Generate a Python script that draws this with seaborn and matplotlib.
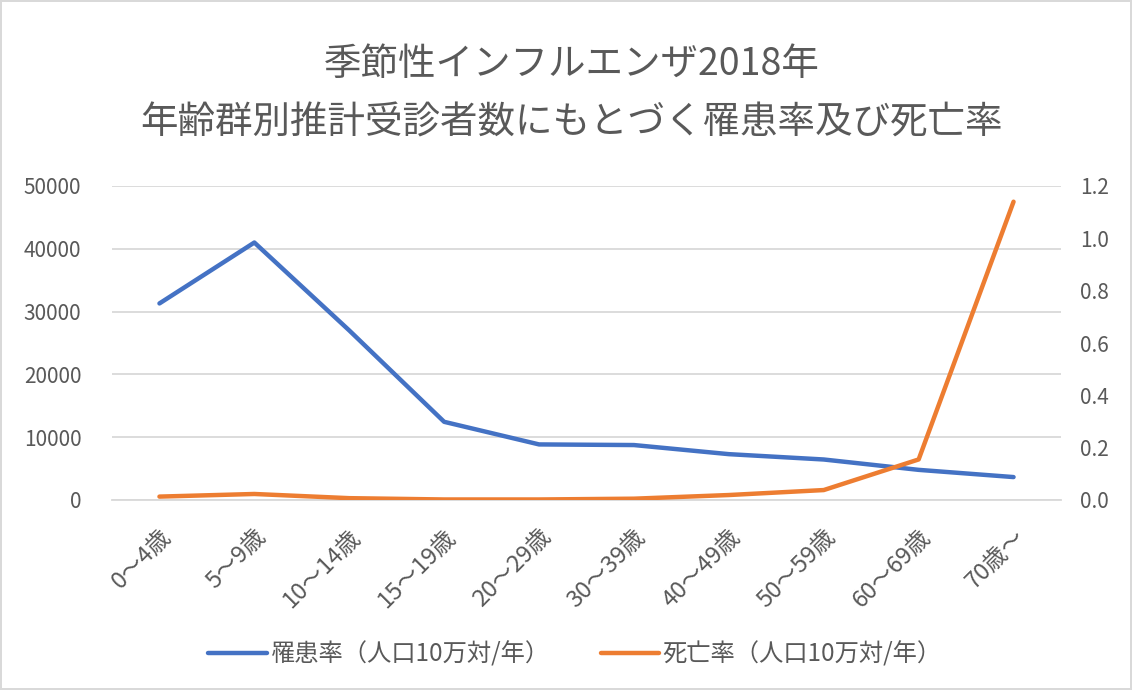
import matplotlib
matplotlib.use('Agg')
import matplotlib.pyplot as plt
import seaborn as sns
import pandas as pd

# age groups and rates
age_groups = ['0〜4歳', '5〜9歳', '10〜14歳', '15〜19歳', '20〜29歳',
              '30〜39歳', '40〜49歳', '50〜59歳', '60〜69歳', '70歳〜']
morbidity = [31300, 41000, 27000, 12450, 8850, 8750, 7300, 6450, 4800, 3650]
mortality = [0.013, 0.023, 0.007, 0.002, 0.002, 0.005, 0.019, 0.038, 0.155, 1.14]

morb_label = '罹患率（人口10万対/年）'
mort_label = '死亡率（人口10万対/年）'
title = '季節性インフルエンザ2018年\n年齢群別推計受診者数にもとづく罹患率及び死亡率'

BLUE = '#4472C4'
ORANGE = '#ED7D31'
GRID = '#D9D9D9'
TEXT = '#595959'

sns.set_theme(style='white')
plt.rcParams['font.family'] = ['Noto Sans CJK JP', 'DejaVu Sans']

df = pd.DataFrame({'age': age_groups, 'morb': morbidity, 'mort': mortality})
df['x'] = range(len(df))

fig = plt.figure(figsize=(11.32, 6.9), dpi=100)
fig.patch.set_edgecolor('#D9D9D9')
fig.patch.set_linewidth(1.5)
ax = fig.add_axes([112 / 1132, 1 - 500 / 690, 949 / 1132, 314 / 690])
ax2 = ax.twinx()

sns.lineplot(data=df, x='x', y='morb', ax=ax, color=BLUE, linewidth=3.2,
             solid_capstyle='round', label=morb_label, legend=False)
sns.lineplot(data=df, x='x', y='mort', ax=ax2, color=ORANGE, linewidth=3.2,
             solid_capstyle='round', label=mort_label, legend=False)

ax.set_xlim(-0.5, len(age_groups) - 0.5)
ax.set_ylim(0, 50000)
ax2.set_ylim(0, 1.2)
ax.set_yticks(range(0, 50001, 10000))
ax2.set_yticks([i / 10 for i in range(0, 13, 2)])
ax2.set_yticklabels([f'{i / 10:.1f}' for i in range(0, 13, 2)])
ax.set_xticks(df['x'])
ax.set_xticklabels(age_groups, rotation=45, ha='right', rotation_mode='anchor')

ax.grid(axis='y', color=GRID, linewidth=1.3)
ax.set_axisbelow(True)
for a in (ax, ax2):
    for s in a.spines.values():
        s.set_visible(False)
    a.set_xlabel('')
    a.set_ylabel('')
ax.spines['bottom'].set_visible(True)
ax.spines['bottom'].set_color(GRID)
ax.spines['bottom'].set_linewidth(1.3)

ax.tick_params(axis='y', labelsize=15, labelcolor=TEXT, length=0, pad=22)
ax2.tick_params(axis='y', labelsize=15, labelcolor=TEXT, length=0, pad=14)
ax.tick_params(axis='x', labelsize=17, labelcolor=TEXT, length=0, pad=18)

fig.suptitle(title, x=0.505, y=0.935, fontsize=27, color=TEXT, linespacing=1.66,
             va='top')

h1, l1 = ax.get_legend_handles_labels()
h2, l2 = ax2.get_legend_handles_labels()
fig.legend(h1 + h2, l1 + l2, loc='center', bbox_to_anchor=(0.508, 0.051),
           ncol=2, frameon=False, fontsize=17.5, labelcolor=TEXT,
           handlelength=2.4, handletextpad=0.15, columnspacing=2.1)

fig.savefig('out.png', dpi=100)
plt.close(fig)
